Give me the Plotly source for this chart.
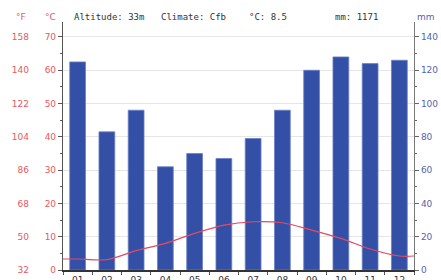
import plotly.graph_objects as go

months = ["01", "02", "03", "04", "05", "06", "07", "08", "09", "10", "11", "12"]
precip_mm = [125, 83, 96, 62, 70, 67, 79, 96, 120, 128, 124, 126]
temp_c = [3.3, 3.1, 5.8, 8.0, 11.0, 13.5, 14.5, 14.2, 12.0, 9.5, 6.3, 4.2]
c_ticks = [0, 10, 20, 30, 40, 50, 60, 70]
f_ticks = [32, 50, 68, 86, 104, 122, 140, 158]
mm_ticks = [0, 20, 40, 60, 80, 100, 120, 140]
header = ["Altitude: 33m", "Climate: Cfb", "°C: 8.5", "mm: 1171"]

W, H = 441, 280
T, B = 22, 10
x0, x1 = 63 / W, 414 / W
c_top = 74.5
mm_top = c_top * 2
f_top = 32 + c_top * 1.8

red = "#e8585f"
blue_lbl = "#5563b0"
bar_col = "#3450a6"


def py(pix):
    # figure pixel y -> paper y
    return (H - B - pix) / (H - T - B)


fig = go.Figure()
fig.add_trace(go.Bar(x=months, y=precip_mm, marker=dict(color=bar_col, line=dict(color="#6b7fc6", width=0.8)),
                     width=0.54, yaxis="y", showlegend=False))
xs = [-0.5] + list(range(12)) + [11.5]
ys = [temp_c[0]] + temp_c + [temp_c[-1]]
fig.add_trace(go.Scatter(x=xs, y=ys, mode="lines", line=dict(color="#e04a63", width=1.2, shape="spline", smoothing=0.8),
                         yaxis="y2", xaxis="x2", showlegend=False))
fig.add_trace(go.Scatter(x=[months[0]], y=[f_ticks[0]], yaxis="y3", mode="markers",
                         marker=dict(opacity=0), showlegend=False, hoverinfo="skip"))

fig.update_layout(
    template="none",
    width=W, height=H,
    margin=dict(l=0, r=0, t=T, b=B, autoexpand=False),
    paper_bgcolor="white", plot_bgcolor="white",
    font=dict(family="DejaVu Sans", size=9, color="#333"),
    showlegend=False,
    xaxis=dict(domain=[x0, x1], type="category", categoryorder="array", categoryarray=months,
               range=[-0.5, 11.5], showline=True, linecolor="#333", linewidth=1.5,
               ticks="outside", tickson="boundaries", ticklen=3, tickcolor="#555", automargin=False,
               tickfont=dict(size=9, color="#333"), showgrid=False, zeroline=False),
    xaxis2=dict(domain=[x0, x1], overlaying="x", range=[-0.5, 11.5], visible=False, automargin=False),
    yaxis=dict(range=[0, mm_top], side="right", tickvals=mm_ticks, showline=True, linecolor="#777",
               linewidth=1.2, ticks="outside", ticklen=4, tickcolor="#666", automargin=False,
               minor=dict(dtick=10, ticks="outside", ticklen=2, tickcolor="#666", showgrid=False),
               tickfont=dict(size=9, color=blue_lbl), showgrid=True, gridcolor="#e6e6e6", zeroline=False),
    yaxis2=dict(range=[0, c_top], overlaying="y", side="left", anchor="x", tickvals=c_ticks, showline=True,
                linecolor="#555", linewidth=1.2, ticks="outside", ticklen=4, tickcolor="#555", automargin=False,
                minor=dict(dtick=5, ticks="outside", ticklen=2, tickcolor="#555", showgrid=False),
                tickfont=dict(size=9, color=red), showgrid=False, zeroline=False),
    yaxis3=dict(range=[32, f_top], overlaying="y", side="left", anchor="free", position=29 / W,
                tickvals=f_ticks, showline=False, ticks="", tickfont=dict(size=9, color=red), automargin=False,
                showgrid=False, zeroline=False),
    bargap=0.46,
)

hx = [72, 159, 247, 333]
for t, px in zip(header, hx):
    fig.add_annotation(text=t, x=px / W, y=py(17), xref="paper", yref="paper", xanchor="left",
                       yanchor="middle", showarrow=False, font=dict(family="DejaVu Sans Mono", size=9, color="#333"))
for t, px, col in [("°F", 21, red), ("°C", 50, red), ("mm", 426, blue_lbl)]:
    fig.add_annotation(text=t, x=px / W, y=py(17), xref="paper", yref="paper", xanchor="center",
                       yanchor="middle", showarrow=False, font=dict(size=9, color=col))

fig.write_html("out.html", config={"displayModeBar": False},
               post_script="document.body.style.margin='0';document.body.style.overflow='hidden';")
